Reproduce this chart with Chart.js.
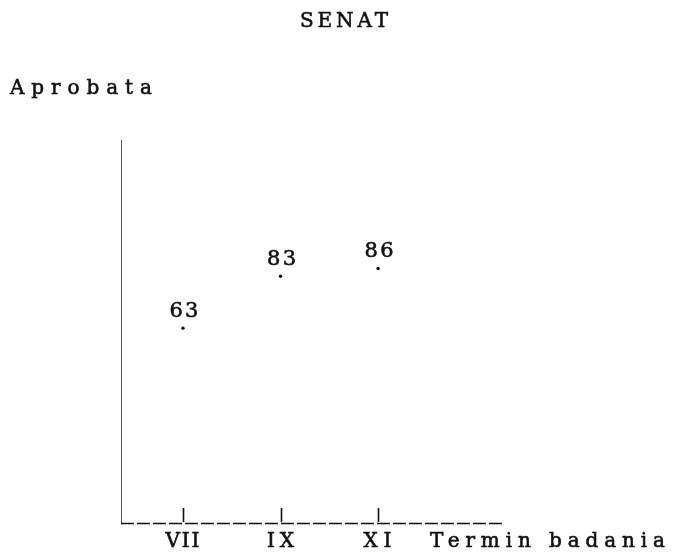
<!DOCTYPE html>
<html><head><meta charset="utf-8">
<script src="https://cdn.jsdelivr.net/npm/chart.js@4"></script>
<style>html,body{margin:0;padding:0;background:#fff}#wrap{width:693px;height:559px}</style>
</head><body><div id="wrap"><canvas id="c" width="693" height="559"></canvas></div>
<script>
const titleText = 'SENAT';
const yAxisLabel = 'Aprobata';
const xAxisLabel = 'Termin badania';
const months = [7, 9, 11];
const monthLabels = ['VII', 'IX', 'XI'];
const approval = [63, 83, 86];

const points = months.map((m, i) => ({ x: m, y: approval[i] }));

// draw text stretched by letter spacing to a given width
function fitText(ctx, text, x, y, width, align) {
  ctx.save();
  ctx.textBaseline = 'middle';
  ctx.textAlign = 'left';
  ctx.letterSpacing = '0px';
  const w0 = ctx.measureText(text).width;
  const n = text.length;
  const sp = n > 1 ? Math.max(0, (width - w0) / (n - 1)) : 0;
  const w = w0 + sp * (n - 1);
  ctx.letterSpacing = sp + 'px';
  let sx = x;
  if (align === 'center') sx = x - w / 2;
  else if (align === 'right') sx = x - w;
  ctx.lineWidth = 0.6;
  ctx.strokeText(text, sx, y);
  ctx.fillText(text, sx, y);
  ctx.restore();
}

const labelWidths = [34, 27, 28];

const decor = {
  id: 'decor',
  afterDraw(chart) {
    const ctx = chart.ctx;
    const xs = chart.scales.x;
    const area = chart.chartArea;
    ctx.save();
    ctx.fillStyle = '#111';
    ctx.strokeStyle = '#111';
    // dashed baseline
    ctx.lineWidth = 1.6;
    ctx.setLineDash([13, 3]);
    ctx.beginPath();
    ctx.moveTo(area.left, area.bottom + 0.5);
    ctx.lineTo(area.right, area.bottom + 0.5);
    ctx.stroke();
    ctx.setLineDash([]);
    // tick marks pointing up
    months.forEach((m, i) => {
      const px = Math.round(xs.getPixelForValue(m)) + 0.5;
      ctx.lineWidth = 1.6;
      ctx.beginPath();
      ctx.moveTo(px, area.bottom - 15);
      ctx.lineTo(px, area.bottom - 1);
      ctx.stroke();
      ctx.font = '20px "DejaVu Serif"';
      fitText(ctx, monthLabels[i], px - 1, area.bottom + 19, labelWidths[i], 'center');
    });
    // axis titles
    ctx.font = '20px "DejaVu Serif"';
    fitText(ctx, xAxisLabel, 430, area.bottom + 19, 235, 'left');
    fitText(ctx, yAxisLabel, 10, 89, 142, 'left');
    fitText(ctx, titleText, 344, 22, 88, 'center');
    // value labels
    ctx.font = '21px "DejaVu Serif"';
    const meta = chart.getDatasetMeta(0);
    meta.data.forEach((el, i) => {
      fitText(ctx, String(approval[i]), el.x + 1, el.y - 17, 29, 'center');
    });
    ctx.restore();
  }
};

new Chart(document.getElementById('c'), {
  type: 'scatter',
  data: {
    datasets: [{
      data: points,
      pointRadius: 1.7,
      pointBackgroundColor: '#111',
      pointBorderColor: '#111',
      pointBorderWidth: 0,
      showLine: false
    }]
  },
  options: {
    responsive: false,
    animation: false,
    layout: { padding: { left: 121, top: 140, right: 190, bottom: 36 } },
    plugins: { legend: { display: false }, tooltip: { enabled: false }, title: { display: false } },
    scales: {
      x: {
        type: 'linear', min: 5.73, max: 13.56,
        afterBuildTicks: s => { s.ticks = months.map(v => ({ value: v })); },
        ticks: { display: false },
        grid: { display: false, drawTicks: false },
        border: { display: false }
      },
      y: {
        type: 'linear', min: -12.2, max: 135.6,
        ticks: { display: false },
        grid: { display: false, drawTicks: false },
        border: { display: true, color: '#555', width: 1 }
      }
    }
  },
  plugins: [decor]
});
</script>
</body></html>
